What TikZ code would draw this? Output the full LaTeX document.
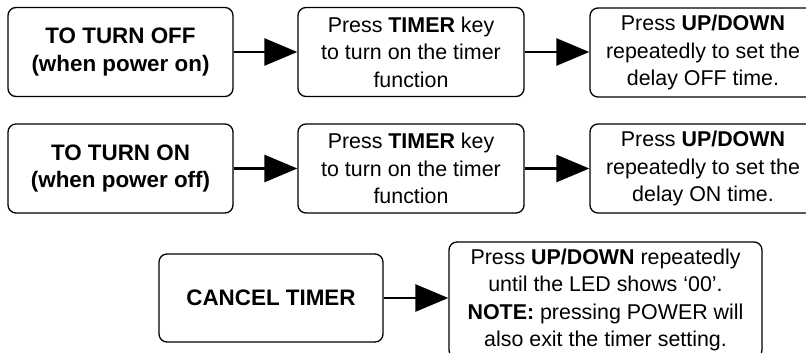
\documentclass[tikz,border=0pt]{standalone}
\usepackage{fontspec}
\setmainfont{Liberation Sans}
\usetikzlibrary{arrows.meta}
\begin{document}
\begin{tikzpicture}[x=1pt,y=-1pt,
  box/.style={draw=black, line width=1.3pt, rounded corners=8pt, rectangle,
    inner sep=0pt, align=center, text=black,
    font=\fontsize{21.4}{27.5}\selectfont},
  head/.style={box, font=\fontsize{22.4}{27.5}\selectfont\bfseries},
  arr/.style={draw=black, line width=2.6pt, -{Triangle[length=33pt,width=27pt]}}]
\useasboundingbox (0,0) rectangle (806,353);
\clip (0,0) rectangle (806,353);
% row 1
\node[head, minimum width=225pt, minimum height=89pt] (a1) at (120.5,52)
  {TO TURN OFF\\(when power on)};
\node[box, minimum width=226pt, minimum height=89pt] (b1) at (411,52)
  {Press \textbf{TIMER} key\\to turn on the timer\\function};
\node[box, minimum width=226pt, minimum height=89pt] (c1) at (703,52.5)
  {Press \textbf{UP/DOWN}\\repeatedly to set the\\delay OFF time.};
% row 2
\node[head, minimum width=225pt, minimum height=89pt] (a2) at (120.5,168.5)
  {TO TURN ON\\(when power off)};
\node[box, minimum width=226pt, minimum height=89pt] (b2) at (411,168.5)
  {Press \textbf{TIMER} key\\to turn on the timer\\function};
\node[box, minimum width=226pt, minimum height=89pt] (c2) at (703,168.5)
  {Press \textbf{UP/DOWN}\\repeatedly to set the\\delay ON time.};
% row 3
\node[head, minimum width=224pt, minimum height=88pt] (a3) at (271,298)
  {CANCEL TIMER};
\node[box, minimum width=313pt, minimum height=116pt] (b3) at (605.5,300)
  {Press \textbf{UP/DOWN} repeatedly\\until the LED shows ‘00’.\\\textbf{NOTE:} pressing POWER will\\also exit the timer setting.};
% arrows
\draw[arr] (a1.east) -- (b1.west);
\draw[arr] (b1.east) -- (c1.west |- b1.east);
\draw[arr] (a2.east) -- (b2.west);
\draw[arr] (b2.east) -- (c2.west);
\draw[arr] (a3.east) -- (b3.west |- a3.east);
\end{tikzpicture}
\end{document}
